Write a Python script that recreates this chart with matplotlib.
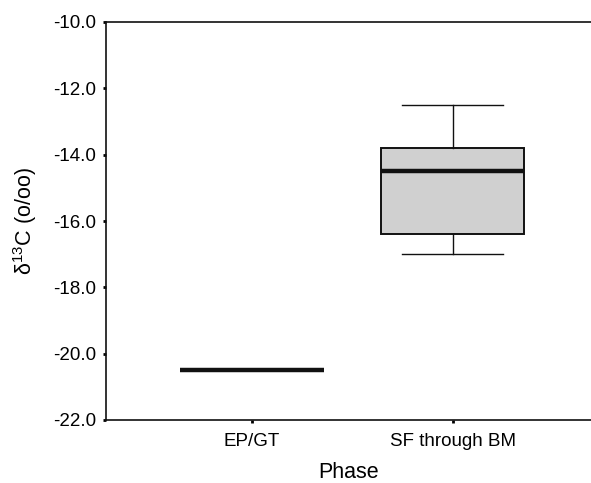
import numpy as np
import matplotlib
matplotlib.use("Agg")
from matplotlib import pyplot as plt

plt.rcParams['font.family'] = ['Liberation Sans', 'DejaVu Sans']
plt.rcParams['mathtext.fontset'] = 'custom'
plt.rcParams['mathtext.rm'] = 'Liberation Sans'

# box stats
phases = ["EP/GT", "SF through BM"]
whisker_low = [-20.5, -17.0]
q1 = [-20.5, -16.4]
median = [-20.5, -14.5]
q3 = [-20.5, -13.8]
whisker_high = [-20.5, -12.5]

yticks = [-22.0, -20.0, -18.0, -16.0, -14.0, -12.0, -10.0]

stats = []
for i in range(len(phases)):
    stats.append({"label": phases[i], "whislo": whisker_low[i], "q1": q1[i],
                  "med": median[i], "q3": q3[i], "whishi": whisker_high[i],
                  "fliers": []})

fig = plt.figure(figsize=(5.91, 4.83), dpi=100)
ax = fig.add_axes([106/591, 1 - 420/483, 1 - 106/591, (420 - 22)/483])

ax.bxp(stats, positions=[1, 2], widths=0.715, patch_artist=True,
       showfliers=False,
       boxprops=dict(facecolor='#d0d0d0', edgecolor='#111111', linewidth=1.4),
       medianprops=dict(color='#111111', linewidth=3.2),
       whiskerprops=dict(color='#111111', linewidth=1.0),
       capprops=dict(color='#111111', linewidth=1.0),
       capwidths=0.5)

ax.set_xlim(0.273, 2.69)
ax.set_ylim(-22, -10)
ax.set_yticks(yticks)
ax.set_yticklabels(["%.1f" % v for v in yticks])
ax.set_xticks([1, 2])
ax.set_xticklabels(phases)

ax.spines['right'].set_visible(False)
for s in ['left', 'top', 'bottom']:
    ax.spines[s].set_linewidth(1.2)
    ax.spines[s].set_color('#111111')

ax.tick_params(axis='y', direction='out', length=2, width=2, pad=5, labelsize=13.5)
ax.tick_params(axis='x', direction='out', length=2, width=2, pad=7, labelsize=13.5)

ax.set_xlabel('Phase', fontsize=15.5, labelpad=9)
ax.set_ylabel(r'δ$^{13}$C (o/oo)', fontsize=15.5, labelpad=10)

plt.savefig("out.png", dpi=100)
